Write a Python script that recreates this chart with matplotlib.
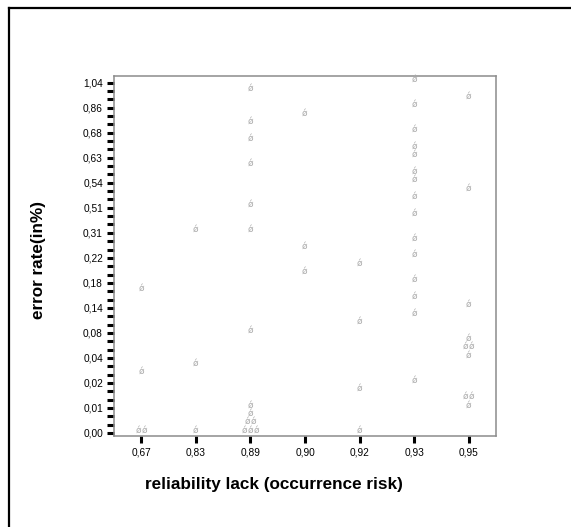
import matplotlib
matplotlib.use("Agg")
import matplotlib.pyplot as plt
from matplotlib.lines import Line2D
from matplotlib.transforms import offset_copy
from collections import Counter

plt.rcParams['font.family'] = ['Liberation Sans', 'DejaVu Sans']

# Category levels of the two axes
x_levels = [0.67, 0.83, 0.89, 0.90, 0.92, 0.93, 0.95]
y_levels = [0.000, 0.003, 0.007, 0.010, 0.013, 0.016, 0.020, 0.025, 0.030,
            0.040, 0.050, 0.060, 0.080, 0.100, 0.120, 0.140, 0.150, 0.160,
            0.180, 0.190, 0.200, 0.220, 0.250, 0.280, 0.310, 0.380, 0.450,
            0.510, 0.520, 0.530, 0.540, 0.570, 0.600, 0.630, 0.650, 0.660,
            0.680, 0.740, 0.800, 0.860, 0.920, 0.980, 1.040]

# Observations: reliability lack -> error rate
risk_067 = [0.160, 0.025, 0.000, 0.000]
risk_083 = [0.310, 0.030, 0.000]
risk_089 = [0.980, 0.740, 0.660, 0.600, 0.510, 0.310, 0.080,
            0.010, 0.007, 0.003, 0.003, 0.000, 0.000, 0.000]
risk_090 = [0.800, 0.250, 0.190]
risk_092 = [0.200, 0.100, 0.016, 0.000]
risk_093 = [1.040, 0.860, 0.680, 0.650, 0.630, 0.570, 0.540, 0.520,
            0.450, 0.280, 0.220, 0.180, 0.150, 0.120, 0.020]
risk_095 = [0.920, 0.530, 0.140, 0.060, 0.050, 0.050, 0.040,
            0.013, 0.013, 0.010]

series = [risk_067, risk_083, risk_089, risk_090, risk_092, risk_093, risk_095]

fig = plt.figure(figsize=(5.71, 5.27), dpi=100)
ax = fig.add_axes([114 / 571, 1 - 436 / 527, 382 / 571, (436 - 75.7) / 527])

# Each case is a small grey glyph; coincident cases are set side by side
for xi, vals in enumerate(series):
    counts = Counter(vals)
    seen = Counter()
    for v in vals:
        yi = y_levels.index(v)
        n = counts[v]
        k = seen[v]
        seen[v] += 1
        dx = (k - (n - 1) / 2) * 4.2
        tr = offset_copy(ax.transData, fig=fig, x=dx, y=0.5, units='points')
        ax.text(xi, yi, "ǿ", transform=tr, ha='center', va='baseline',
                fontsize=6.6, color='#acacac', family='DejaVu Sans')

ax.set_xlim(-0.5, len(x_levels) - 0.5)
ax.set_ylim(-0.36, len(y_levels) - 1 + 0.84)

ax.set_xticks(range(len(x_levels)))
ax.set_xticklabels([f"{v:.2f}".replace('.', ',') for v in x_levels])
ax.set_yticks(range(len(y_levels)))
ax.set_yticklabels([f"{v:.2f}".replace('.', ',') if i % 3 == 0 else ""
                    for i, v in enumerate(y_levels)])

ax.tick_params(axis='both', direction='out', length=5, width=2.2,
               color='black', labelsize=7.3, pad=3)
for s in ax.spines.values():
    s.set_color('#8c8c8c')
    s.set_linewidth(1.1)

fig.text(274 / 571, 1 - 485 / 527, "reliability lack (occurrence risk)",
         ha='center', va='center', fontsize=12.3, fontweight='bold')
fig.text(38 / 571, 1 - 260 / 527, "error rate(in%)", rotation=90,
         ha='center', va='center', fontsize=12.3, fontweight='bold')

# Outer frame of the chart panel
fig.add_artist(Line2D([8.5 / 571, 1.01], [1 - 7.5 / 527, 1 - 7.5 / 527],
                      transform=fig.transFigure, color='black', lw=1.6))
fig.add_artist(Line2D([8.5 / 571, 8.5 / 571], [-0.01, 1 - 7.5 / 527],
                      transform=fig.transFigure, color='black', lw=1.6))

fig.savefig("out.png", dpi=100)
